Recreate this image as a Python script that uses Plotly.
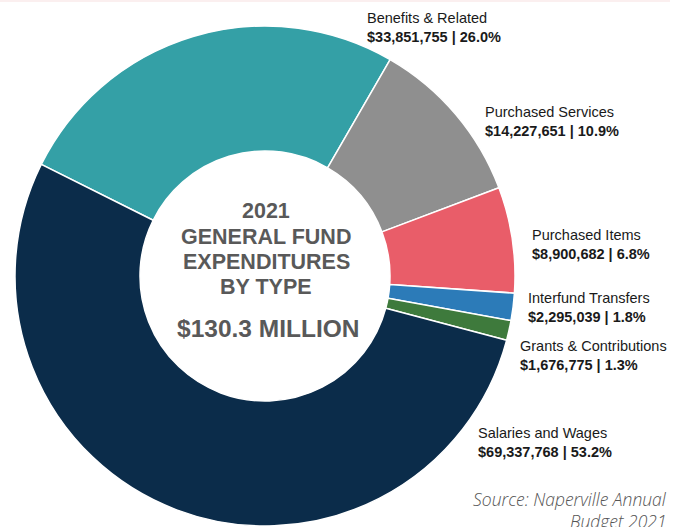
import plotly.graph_objects as go

# ---- data ----
categories = ["Benefits & Related", "Purchased Services", "Purchased Items",
              "Interfund Transfers", "Grants & Contributions", "Salaries and Wages"]
amounts = [33851755, 14227651, 8900682, 2295039, 1676775, 69337768]
colors = ["#34A0A6", "#8F8F8F", "#E95D69", "#2C7BB8", "#3E7A3C", "#0B2C4A"]
center_lines = ["2021", "GENERAL FUND", "EXPENDITURES", "BY TYPE"]
source_lines = ["Source: Naperville Annual", "Budget 2021"]

W, H = 682, 527
total = sum(amounts)

# label anchor positions in pixels (left x, middle y)
label_pos = [(365, 27), (483, 121), (530, 244), (526, 307), (518, 355.5), (476, 442)]

def px(x):
    return x / W

def py(y):
    return 1 - y / H

fig = go.Figure()
fig.add_trace(go.Pie(
    labels=categories,
    values=amounts,
    marker=dict(colors=colors, line=dict(color="white", width=1.5)),
    hole=0.5,
    sort=False,
    direction="clockwise",
    rotation=-63.5,
    textinfo="none",
    showlegend=False,
    domain=dict(x=[px(15), px(515)], y=[py(526), py(26)]),
))

annotations = []
font_family = "Liberation Sans, Arial, sans-serif"
for name, val, (lx, ly) in zip(categories, amounts, label_pos):
    pct = val / total * 100
    annotations.append(dict(
        x=px(lx), y=py(ly), xref="paper", yref="paper",
        xanchor="left", yanchor="middle", align="left", showarrow=False,
        text=f"{name}<br><b>${val:,} | {pct:.1f}%</b>",
        font=dict(family=font_family, size=14.5, color="#1a1a1a"),
    ))

center_y = [211, 237, 262, 287]
for line, cy in zip(center_lines, center_y):
    annotations.append(dict(
        x=px(266), y=py(cy), xref="paper", yref="paper",
        xanchor="center", yanchor="middle", showarrow=False,
        text=f"<b>{line}</b>",
        font=dict(family=font_family, size=21.5, color="#595959"),
    ))
annotations.append(dict(
    x=px(268), y=py(328), xref="paper", yref="paper",
    xanchor="center", yanchor="middle", showarrow=False,
    text=f"<b>${total/1e6:.1f} MILLION</b>",
    font=dict(family=font_family, size=24.5, color="#595959"),
))

for line, sy in zip(source_lines, [499, 521]):
    annotations.append(dict(
        x=px(669), y=py(sy), xref="paper", yref="paper",
        xanchor="right", yanchor="middle", showarrow=False,
        text=f"<i>{line}</i>",
        font=dict(family="Open Sans, sans-serif", size=17.5, color="#555555", weight=300),
    ))

fig.update_layout(
    width=W, height=H,
    margin=dict(l=0, r=0, t=0, b=0),
    paper_bgcolor="white", plot_bgcolor="white",
    annotations=annotations,
    shapes=[dict(type="rect", xref="paper", yref="paper", x0=0, x1=px(670),
                 y0=py(2), y1=1, fillcolor="#FBEFEF", line=dict(width=0), layer="below")],
)

fig.write_html("out.html",
               config={"displayModeBar": False},
               post_script="document.body.style.margin='0';document.body.style.overflow='hidden';")
